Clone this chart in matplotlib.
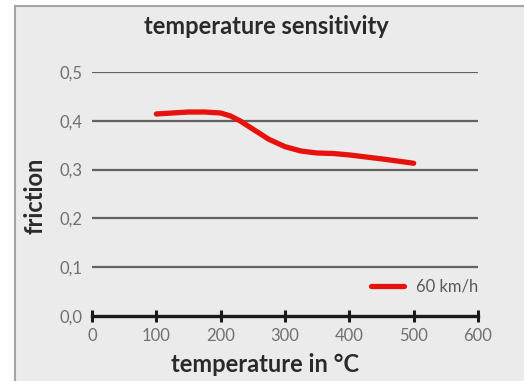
import matplotlib
matplotlib.use("Agg")
from matplotlib import pyplot as plt
from matplotlib.patches import Rectangle

# data
temperature = [100, 125, 150, 175, 200, 215, 230, 250, 275, 300, 325, 350, 375, 400, 450, 500]
friction = [0.414, 0.416, 0.418, 0.418, 0.416, 0.410, 0.400, 0.383, 0.362, 0.347, 0.338, 0.334, 0.333, 0.330, 0.322, 0.313]
x_ticks = [0, 100, 200, 300, 400, 500, 600]
y_ticks = [0.0, 0.1, 0.2, 0.3, 0.4, 0.5]
y_tick_labels = ["0,0", "0,1", "0,2", "0,3", "0,4", "0,5"]

plt.rcParams['font.family'] = ['Lato', 'DejaVu Sans']

W, H = 524, 381
fig = plt.figure(figsize=(W / 100, H / 100), dpi=100)
fig.patch.set_facecolor("white")
# gray chart panel with border
panel = Rectangle((15 / W, -0.05), 1.0, 1 - 6 / H + 0.05, transform=fig.transFigure,
                  facecolor="#ebebeb", edgecolor="#a6a6a6", linewidth=1.5, zorder=-10)
fig.patches.append(panel)

ax = fig.add_axes([92 / W, 1 - 316 / H, (478 - 92) / W, (316 - 72) / H])
ax.set_facecolor("none")

for y in y_ticks[1:]:
    ax.axhline(y, color="#626262", linewidth=1.6, zorder=1)

ax.plot(temperature, friction, color="#e8120c", linewidth=3.8, solid_capstyle="round",
        label="60 km/h", zorder=3, clip_on=False)

ax.set_xlim(0, 600)
ax.set_ylim(0, 0.5)
ax.set_xticks(x_ticks)
ax.set_yticks(y_ticks)
ax.set_yticklabels(y_tick_labels)

for s in ["top", "right", "left"]:
    ax.spines[s].set_visible(False)
ax.spines["bottom"].set_color("#1a1a1a")
ax.spines["bottom"].set_linewidth(2.4)
ax.tick_params(axis="x", direction="inout", length=9, width=2.2, color="#1a1a1a",
               labelsize=12, labelcolor="#707070", pad=4)
ax.tick_params(axis="y", length=0, labelsize=12, labelcolor="#707070", pad=7)

fig.text(266 / W, 1 - 27 / H, "temperature sensitivity", fontsize=17, fontweight="bold",
         color="#2a2a2a", ha="center", va="center")
fig.text(265 / W, 1 - 364 / H, "temperature in °C", fontsize=17, fontweight="bold",
         color="#2a2a2a", ha="center", va="center")
fig.text(35 / W, 1 - 196 / H, "friction", fontsize=17, fontweight="bold",
         color="#2a2a2a", ha="center", va="center", rotation=90)

leg = ax.legend(loc="center right", bbox_to_anchor=(1.0, 0.119), frameon=False, fontsize=12,
                handlelength=2.0, handletextpad=0.7, borderaxespad=0, borderpad=0)
for t in leg.get_texts():
    t.set_color("#595959")

plt.savefig("out.png", dpi=100, facecolor=fig.get_facecolor())
